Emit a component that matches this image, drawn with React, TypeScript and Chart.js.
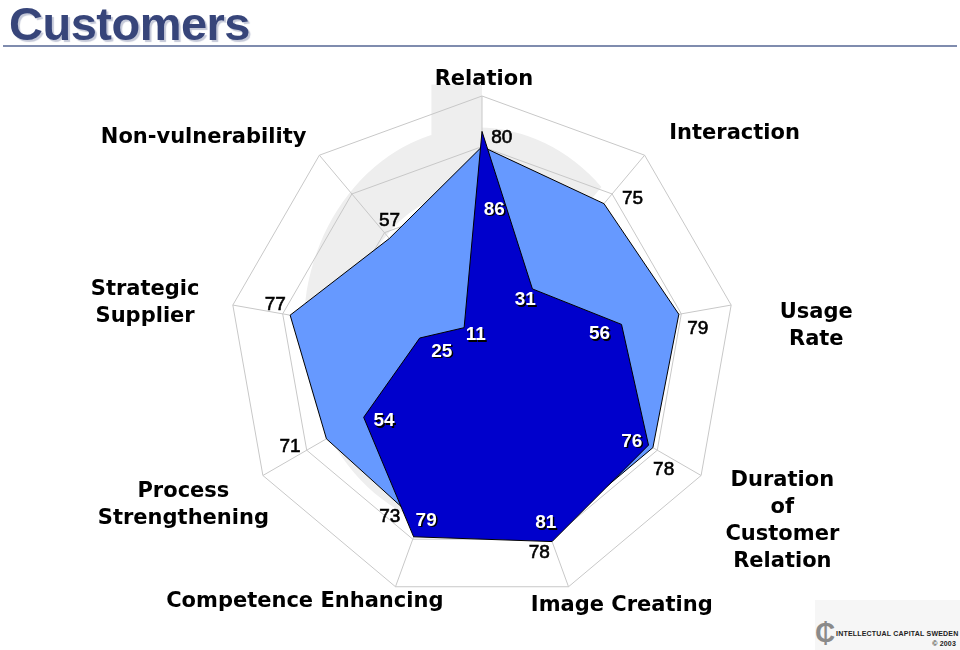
import { useEffect, useRef } from "react";
import { Chart, registerables } from "chart.js";

Chart.register(...registerables);

// ---- data ----
const categories: string[][] = [
  ["Relation"],
  ["Interaction"],
  ["Usage", "Rate"],
  ["Duration", "of", "Customer", "Relation"],
  ["Image Creating"],
  ["Competence Enhancing"],
  ["Process", "Strengthening"],
  ["Strategic", "Supplier"],
  ["Non-vulnerability"],
];
const outerSeries = [80, 75, 79, 78, 78, 73, 71, 77, 57];
const innerSeries = [86, 31, 56, 76, 81, 79, 54, 25, 11];
const scaleMin = 0;
const scaleMax = 100;
const scaleStep = 20;

// ---- label layout (polar: distance factor / px nudge, angle nudge in degrees) ----
const titleDist = [1.072, 1.317, 1.325, 1.364, 1.147, 1.212, 1.327, 1.345, 1.387];
const titleAngle = [0.4, 9.3, 5.7, -0.5, -8.8, 15.3, 2.8, -1.9, -12.5];
const outerNudgeR = [11, 24, 17, 20, 13, 5, 35, 17, 15];
const outerNudgeA = [5.3, 4.8, 4.3, 3.3, 4.2, 9.1, 3.4, 2.6, 4.5];
const innerNudgeR = [-76, -12, -23, -17, -21, -21, -16, -23, -11];
const innerNudgeA = [5, 0.7, 1.9, 1.3, -0.3, -1.8, -5.7, -11.4, 18];

const DEG = Math.PI / 180;

function polar(scale: any, i: number, dist: number, offDeg: number) {
  const a = scale.getIndexAngle(i) - Math.PI / 2 + offDeg * DEG;
  return { x: scale.xCenter + Math.cos(a) * dist, y: scale.yCenter + Math.sin(a) * dist };
}

const watermarkPlugin = {
  id: "watermark",
  beforeDraw(chart: any) {
    const s = chart.scales.r;
    const ctx = chart.ctx;
    const R = s.drawingArea;
    const cx = s.xCenter - 0.016 * R;
    const cy = s.yCenter - 0.075 * R;
    ctx.save();
    ctx.fillStyle = "#eeeeee";
    ctx.beginPath();
    ctx.ellipse(cx, cy, 0.69 * R, 0.8 * R, 0, -45 * DEG, 45 * DEG, true);
    ctx.ellipse(cx, cy, 0.49 * R, 0.555 * R, 0, 45 * DEG, -45 * DEG, false);
    ctx.closePath();
    ctx.fill();
    ctx.fillRect(s.xCenter - 0.2 * R, s.yCenter - 1.045 * R, 0.2 * R, 0.3 * R);
    ctx.restore();
  },
};

const labelsPlugin = {
  id: "customLabels",
  afterDatasetsDraw(chart: any) {
    const s = chart.scales.r;
    const ctx = chart.ctx;
    ctx.save();
    ctx.textAlign = "center";
    ctx.textBaseline = "alphabetic";
    const numSize = 19;
    const numCap = numSize * 0.716 / 2;
    // outer series values
    ctx.font = `${numSize}px 'Liberation Sans', Arial, sans-serif`;
    ctx.fillStyle = "#000";
    ctx.strokeStyle = "#000";
    ctx.lineWidth = 0.6;
    outerSeries.forEach((v, i) => {
      const p = polar(s, i, s.getDistanceFromCenterForValue(v) + outerNudgeR[i], outerNudgeA[i]);
      ctx.fillText(String(v), p.x, p.y + numCap);
      ctx.strokeText(String(v), p.x, p.y + numCap);
    });
    // inner series values
    ctx.font = `bold ${numSize}px 'Liberation Sans', Arial, sans-serif`;
    innerSeries.forEach((v, i) => {
      const p = polar(s, i, s.getDistanceFromCenterForValue(v) + innerNudgeR[i], innerNudgeA[i]);
      ctx.fillStyle = "#000";
      ctx.fillText(String(v), p.x + 1.5, p.y + numCap + 1.5);
      ctx.fillStyle = "#fff";
      ctx.fillText(String(v), p.x, p.y + numCap);
    });
    // axis titles
    const tSize = 21;
    ctx.font = `bold ${tSize}px 'DejaVu Sans', Verdana, sans-serif`;
    ctx.fillStyle = "#000";
    const lineH = 27;
    const tCap = tSize * 0.729 / 2;
    categories.forEach((lines, i) => {
      const p = polar(s, i, s.drawingArea * titleDist[i], titleAngle[i]);
      lines.forEach((ln, k) => {
        ctx.fillText(ln, p.x, p.y + tCap + (k - (lines.length - 1) / 2) * lineH);
      });
    });
    ctx.restore();
  },
};

function RadarChart() {
  const ref = useRef<HTMLCanvasElement | null>(null);
  useEffect(() => {
    if (!ref.current) return;
    const chart = new Chart(ref.current, {
      type: "radar",
      data: {
        labels: categories.map((c) => c.join(" ")),
        datasets: [
          {
            data: innerSeries,
            backgroundColor: "#0000cc",
            borderColor: "#000000",
            borderWidth: 1,
            fill: true,
            pointRadius: 0,
          },
          {
            data: outerSeries,
            backgroundColor: "#6699ff",
            borderColor: "#000000",
            borderWidth: 1,
            fill: true,
            pointRadius: 0,
          },
        ],
      },
      options: {
        responsive: false,
        animation: false,
        layout: { padding: { left: 229, right: 225, top: 96, bottom: 48 } },
        plugins: {
          legend: { display: false },
          tooltip: { enabled: false },
        },
        elements: { line: { tension: 0 } },
        scales: {
          r: {
            min: scaleMin,
            max: scaleMax,
            ticks: { display: false, stepSize: scaleStep },
            grid: { color: "#c8c8c8", lineWidth: 1 },
            angleLines: { color: "#c8c8c8", lineWidth: 1 },
            pointLabels: { display: false },
          },
        },
      },
      plugins: [watermarkPlugin, labelsPlugin],
    });
    return () => chart.destroy();
  }, []);
  return <canvas ref={ref} width={960} height={650} style={{ position: "absolute", left: 0, top: 0 }} />;
}

export default function App() {
  return (
    <div style={{ position: "absolute", left: 0, top: 0, width: 960, height: 650, background: "#fff", overflow: "hidden" }}>
      <RadarChart />
      <div
        style={{
          position: "absolute",
          left: 9,
          top: -4,
          fontFamily: "'Liberation Sans', Arial, sans-serif",
          fontWeight: "bold",
          fontSize: 47,
          lineHeight: "normal",
          color: "#37457a",
          textShadow: "2px 2px 1px #c4c8d8",
          letterSpacing: "-0.5px",
          whiteSpace: "nowrap",
        }}
      >
        Customers
      </div>
      <div style={{ position: "absolute", left: 3, top: 45, width: 954, height: 0, borderTop: "2px solid #7f8cae" }} />
      <div style={{ position: "absolute", left: 815, top: 600, width: 145, height: 50, background: "#f6f6f6" }}>
        <div
          style={{
            position: "absolute",
            left: 0,
            top: 18,
            fontFamily: "'Liberation Sans', Arial, sans-serif",
            fontWeight: "bold",
            fontSize: 28,
            color: "#8a8a8a",
            lineHeight: "30px",
          }}
        >
          ₵
        </div>
        <div
          style={{
            position: "absolute",
            left: 21,
            top: 29,
            width: 120,
            fontFamily: "'Liberation Sans', Arial, sans-serif",
            fontWeight: "bold",
            fontSize: 7,
            color: "#222",
            whiteSpace: "nowrap",
            lineHeight: "10px",
            textAlign: "right",
            letterSpacing: "0.2px",
          }}
        >
          INTELLECTUAL CAPITAL SWEDEN
          <br />© 2003
        </div>
      </div>
    </div>
  );
}
